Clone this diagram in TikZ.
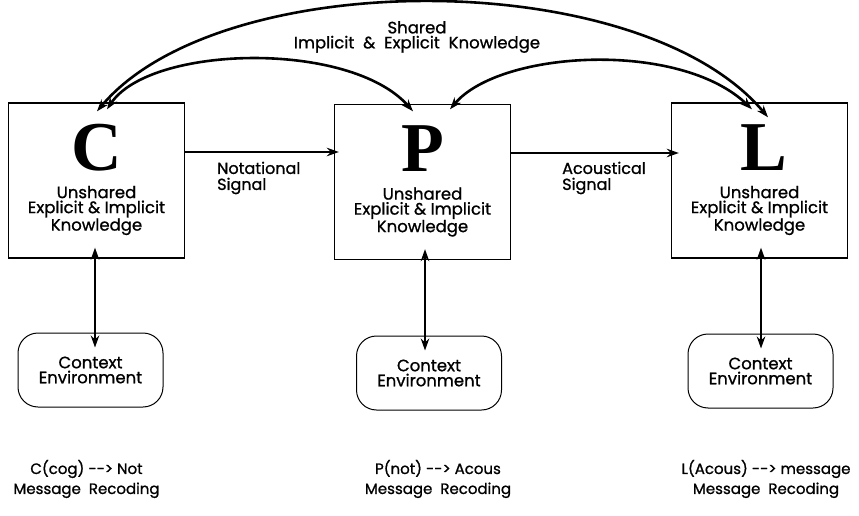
\documentclass[tikz,border=0pt]{standalone}
\usepackage{fontspec}
\setmainfont{Poppins}[FakeBold=1]
\newfontfamily\letterfont{Liberation Serif}
\usetikzlibrary{arrows.meta,positioning}

\begin{document}
\begin{tikzpicture}[x=1pt,y=1pt,
		every node/.style={font=\fontsize{16.5}{15}\selectfont},
		agent/.style={draw, line width=1.4pt, minimum width=176pt, minimum height=155pt, inner sep=0pt},
		letter/.style={font=\letterfont\bfseries\fontsize{70}{70}\selectfont, inner sep=0pt, anchor=base},
		know/.style={align=center, inner sep=0pt},
		context/.style={draw, line width=1pt, rounded corners=20pt, align=center, minimum width=145pt, minimum height=74pt, inner sep=0pt},
		arrow/.style={-{Stealth[length=12pt,width=8.5pt]}, line width=2.6pt},
		both/.style={arrow, {Stealth[length=12pt,width=8.5pt]}-{Stealth[length=12pt,width=8.5pt]}},
		sig/.style={align=left, inner sep=0pt, anchor=west, font=\fontsize{16}{16}\selectfont},
		recode/.style={align=center, inner sep=0pt, font=\fontsize{15}{20}\selectfont}
	]
		\useasboundingbox (0,0) rectangle (859,515);

		\node[agent] (C) at (96.5,334.5) {};
		\node[agent] (P) at (422.5,333) {};
		\node[agent] (L) at (759.5,334.5) {};

		\node[letter] (Cl) at ([yshift=10pt]C.center) {C};
		\node[letter] (Pl) at ([yshift=10pt]P.center) {P};
		\node[letter] (Ll) at ([xshift=4pt,yshift=10pt]L.center) {L};

		\node[know] (Ck) at ([yshift=-30pt]C.center) {Unshared\\Explicit \& Implicit\\Knowledge};
		\node[know] (Pk) at ([yshift=-30pt]P.center) {Unshared\\Explicit \& Implicit\\Knowledge};
		\node[know] (Lk) at ([yshift=-30pt]L.center) {Unshared\\Explicit \& Implicit\\Knowledge};

		\node[context] (Cx) at (90.5,145) {Context\\Environment};
		\node[context] (Px) at (429,142) {Context\\Environment};
		\node[context] (Lx) at (760.5,144) {Context\\Environment};

		\node[sig] (ns) at (217,337) {Notational\\Signal};
		\node[sig] (as) at (562,337) {Acoustical\\Signal};

		\node[know] (shared) at (417,478) {Shared\\Implicit \ \& \ Explicit \ Knowledge};

		\node[recode] (Cr) at (86.5,36) {C(cog) {-}{-}> Not\\Message \ Recoding};
		\node[recode] (Pr) at (438,36) {P(not) {-}{-}> Acous\\Message \ Recoding};
		\node[recode] (Lr) at (766,36) {L(Acous) {-}{-}> message\\Message \ Recoding};

		\draw[arrow, shorten >=-5pt] ([yshift=28.5pt]C.east) -- ([yshift=28.5pt]C.east -| P.west);
		\draw[arrow, shorten >=-8pt] ([yshift=29pt]P.east) -- ([yshift=29pt]P.east -| L.west);

		\draw[both, shorten <=-11pt, shorten >=-15pt] ([xshift=-1.5pt]C.south) -- ([xshift=-1.5pt]C.south |- Cx.north);
		\draw[both, shorten <=-11pt, shorten >=-15pt] ([xshift=2.5pt]P.south) -- ([xshift=2.5pt]P.south |- Px.north);
		\draw[both, shorten <=-11pt, shorten >=-15pt] ([xshift=1.5pt]L.south) -- ([xshift=1.5pt]L.south |- Lx.north);

		\draw[both] ([shift={(0.5,-9)}]C.north) .. controls (220,550) and (640,550) .. ([shift={(8.5,-15)}]L.north);
		\draw[both] ([shift={(10.5,-7)}]C.north) .. controls (150,470) and (350,475) .. ([shift={(-9.5,-7.5)}]P.north);
		\draw[both] ([shift={(27.5,-5.5)}]P.north) .. controls (500,465) and (680,475) .. ([shift={(-7.5,-7)}]L.north);
	\end{tikzpicture}
\end{document}
